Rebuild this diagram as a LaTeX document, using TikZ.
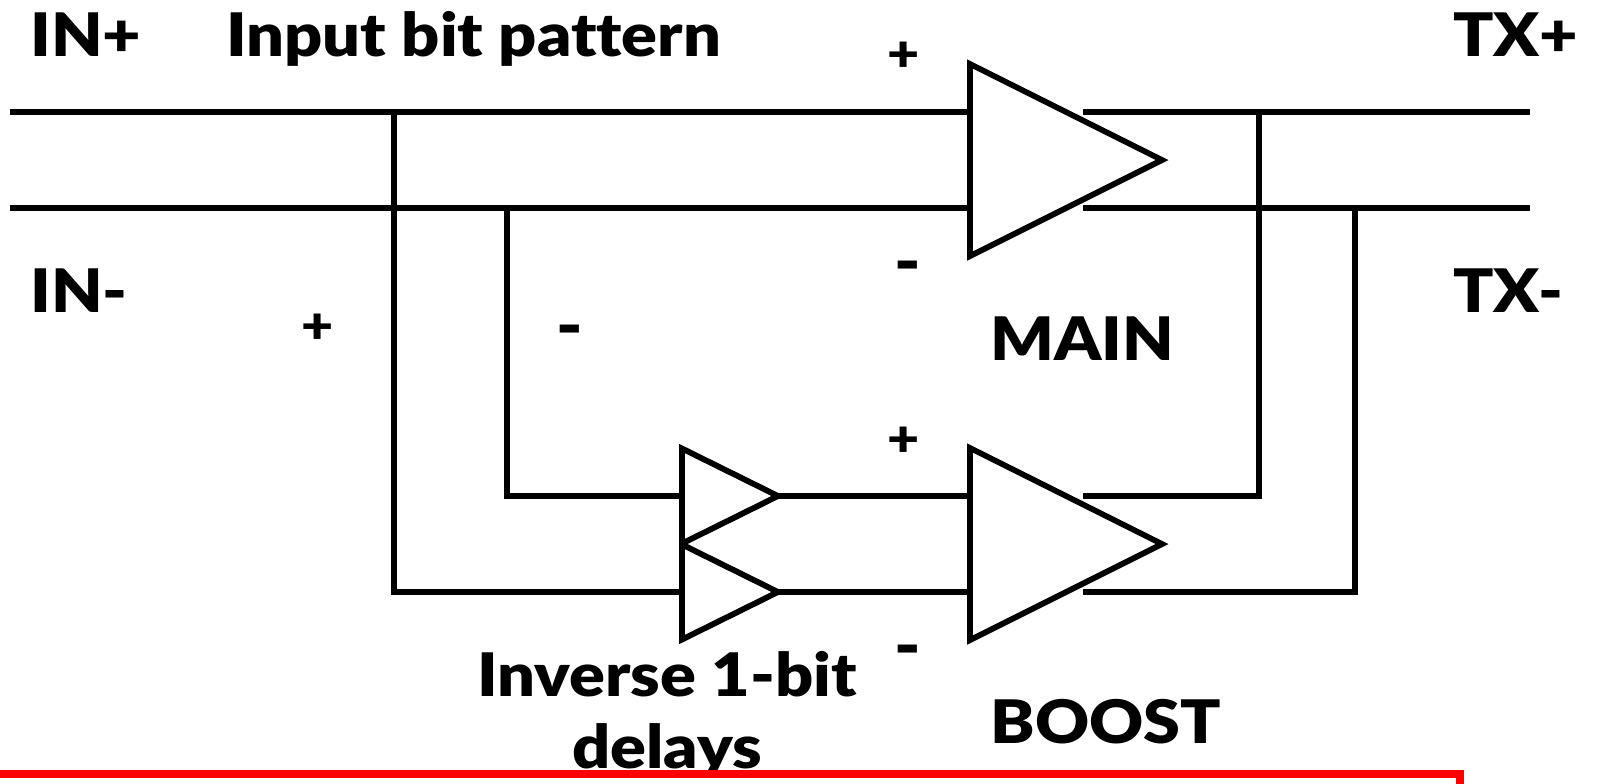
\documentclass[tikz,border=0pt]{standalone}
\usepackage{fontspec}
\setmainfont{Lato}[BoldFont={Lato Black}, BoldFeatures={FakeStretch=1.11, Ligatures=NoCommon}]
\usetikzlibrary{positioning, shapes.geometric}

\begin{document}
\begin{tikzpicture}[
  x=0.5pt, y=-0.5pt,
  wire/.style={line width=3pt},
  amp/.style={isosceles triangle, isosceles triangle stretches, draw, line width=2.9pt, inner sep=0pt, outer sep=0pt, anchor=lower side, minimum width=96pt, minimum height=96pt},
  delay/.style={isosceles triangle, isosceles triangle stretches, draw, line width=2.9pt, inner sep=0pt, outer sep=0pt, anchor=lower side, minimum width=47.5pt, minimum height=48pt},
  lab/.style={font=\bfseries\fontsize{30}{36}\selectfont, inner sep=0pt, anchor=base west},
  plus/.style={font=\bfseries\fontsize{25}{30}\selectfont, inner sep=0pt},
  minus/.style={font=\bfseries\fontsize{32}{38}\selectfont, inner sep=0pt}
]
\useasboundingbox (0,0) rectangle (1602,783);
\clip (0,0) rectangle (1602,783);

% Labels
\node[lab] (inp) at (30,56) {IN+};
\node[lab] (pattern) at (226,56) {Input bit pattern};
\node[lab] (txp) at (1453,56) {TX+};
\node[lab] (inn) at (30,312) {IN-};
\node[lab] (txn) at (1453,312) {TX-};
\node[lab] (mainlab) at (990,360) {MAIN};
\node[lab] (boostlab) at (990,743) {BOOST};
\node[lab, anchor=base] (inverse) at (667,696) {Inverse 1-bit};
\node[lab, anchor=base] (delays) at (667,768) {delays};

% Amplifiers
\node[amp] (main) at (970,160) {};
\node[amp] (boost) at (970,544) {};
\node[delay] (dlya) at (682,496) {};
\node[delay] (dlyb) at (682,592) {};

% Signs
\node[plus] (mp) at (904,57) {+};
\node[minus] (mn) at (908,273) {-};
\node[plus] (bp) at (904,442) {+};
\node[minus] (bn) at (908,657) {-};
\node[plus] (dp) at (318,329) {+};
\node[minus] (dn) at (570,337) {-};

% Wire ends
\coordinate (ina) at (10,112);
\coordinate (inb) at (10,208);
\coordinate (stuba) at (1083,112);
\coordinate (stubb) at (1083,208);
\coordinate (outa) at (1530,112);
\coordinate (outb) at (1530,208);
\coordinate (tapa) at (394,112);
\coordinate (tapb) at (507,208);
\coordinate (tapc) at (1259,112);
\coordinate (tapd) at (1355,208);
\coordinate (stubc) at (1083,496);
\coordinate (stubd) at (1083,592);

% Wires
\draw[wire] (ina) -- (ina -| main.lower side);
\draw[wire] (inb) -- (inb -| main.lower side);
\draw[wire] (stuba) -- (outa);
\draw[wire] (stubb) -- (outb);
\draw[wire] (tapa) -- (tapa |- dlyb.apex) -- (dlyb.apex -| dlyb.lower side);
\draw[wire] (tapb) -- (tapb |- dlya.apex) -- (dlya.apex -| dlya.lower side);
\draw[wire] (dlya.apex) -- (dlya.apex -| boost.lower side);
\draw[wire] (dlyb.apex) -- (dlyb.apex -| boost.lower side);
\draw[wire] (tapc) -- (tapc |- stubc) -- (stubc);
\draw[wire] (tapd) -- (tapd |- stubd) -- (stubd);

% Red frame
\draw[red, line width=4pt] (-20,774) rectangle (1460,830);
\end{tikzpicture}
\end{document}
